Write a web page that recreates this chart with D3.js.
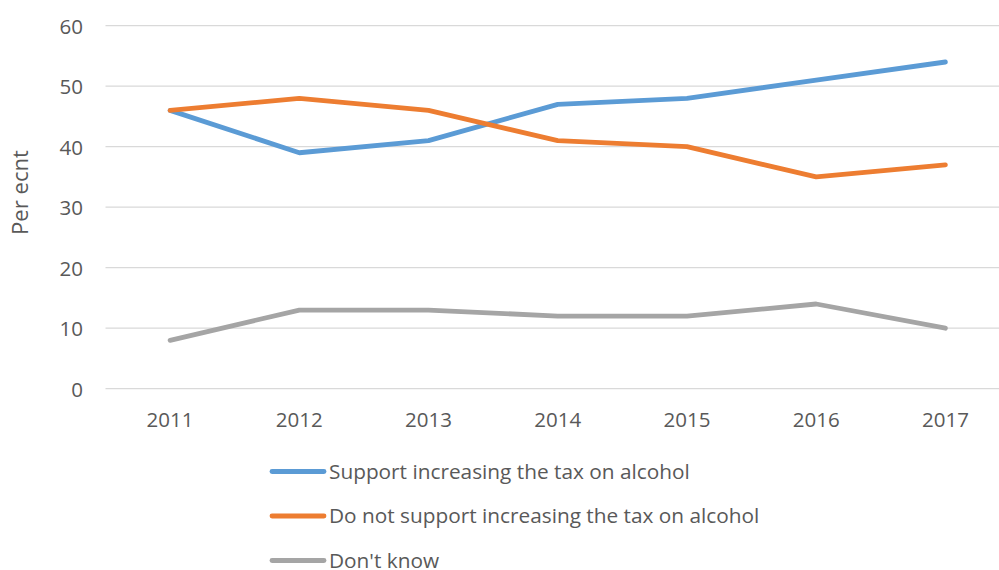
<!DOCTYPE html>
<html><head><meta charset="utf-8">
<script src="https://cdn.jsdelivr.net/npm/d3@7"></script>
<style>body{margin:0;background:#fff}svg{display:block}</style>
</head><body>
<svg id="c" width="999" height="570"></svg>
<script>
const years = ["2011","2012","2013","2014","2015","2016","2017"];
const support = [46, 39, 41, 47, 48, 51, 54];
const notSupport = [46, 48, 46, 41, 40, 35, 37];
const dontKnow = [8, 13, 13, 12, 12, 14, 10];
const seriesNames = ["Support increasing the tax on alcohol","Do not support increasing the tax on alcohol","Don't know"];
const colors = ["#5B9BD5","#ED7D31","#A5A5A5"];
const yTicks = [0,10,20,30,40,50,60];

const svg = d3.select("#c");
const font = "'Open Sans', sans-serif";

// fit a font size so a sample string has a target width
function fitSize(str, target) {
  const t = svg.append("text").style("font-family", font).style("font-size", "20px").text(str);
  const w = t.node().getComputedTextLength();
  t.remove();
  return 20 * target / w;
}
const tickSize = fitSize("2011", 47);
const legendSize = fitSize(seriesNames[0], 361);
const titleSize = fitSize("Per ecnt", 85);

const x = d3.scaleBand().domain(years).range([105.5, 1010]);
const y = d3.scaleLinear().domain([0,60]).range([388.7, 25.7]);

// gridlines
svg.append("g").selectAll("line").data(yTicks).join("line")
  .attr("x1", 105.5).attr("x2", 1010)
  .attr("y1", d=>y(d)).attr("y2", d=>y(d))
  .attr("stroke", "#D9D9D9").attr("stroke-width", 1.3);

// y axis labels
const yAxis = d3.axisLeft(y).tickValues(yTicks).tickSize(0).tickPadding(0);
const gy = svg.append("g").attr("transform","translate(83,0)").call(yAxis);
gy.select(".domain").remove();
gy.selectAll("text").attr("fill","#595959").attr("dy","0.36em")
  .style("font-family",font).style("font-size",tickSize+"px");

// x axis labels
const xAxis = d3.axisBottom(x).tickSize(0).tickPadding(0);
const gx = svg.append("g").attr("transform","translate(0,420)").call(xAxis);
gx.select(".domain").remove();
gx.selectAll("text").attr("fill","#595959").attr("dy","0.36em")
  .style("font-family",font).style("font-size",tickSize+"px");

// y title
svg.append("text").attr("transform","translate(20,192.5) rotate(-90)")
  .attr("text-anchor","middle").attr("dy","0.36em").attr("fill","#595959")
  .style("font-family",font).style("font-size",titleSize+"px").text("Per ecnt");

const all = [support, notSupport, dontKnow];
const line = d3.line().x((d,i)=>x(years[i])+x.bandwidth()/2).y(d=>y(d));
svg.append("g").selectAll("path").data(all).join("path")
  .attr("d", d=>line(d)).attr("fill","none")
  .attr("stroke",(d,i)=>colors[i]).attr("stroke-width",4.8)
  .attr("stroke-linecap","round").attr("stroke-linejoin","round");

// legend
const lg = svg.append("g").selectAll("g").data(seriesNames).join("g")
  .attr("transform",(d,i)=>`translate(0,${471.5 + i*44.5})`);
lg.append("line").attr("x1",272).attr("x2",324).attr("y1",0).attr("y2",0)
  .attr("stroke",(d,i)=>colors[i]).attr("stroke-width",4.8).attr("stroke-linecap","round");
lg.append("text").attr("x",329).attr("y",0).attr("dy","0.34em")
  .attr("fill","#595959").style("font-family",font).style("font-size",legendSize+"px").text(d=>d);
</script>
</body></html>
